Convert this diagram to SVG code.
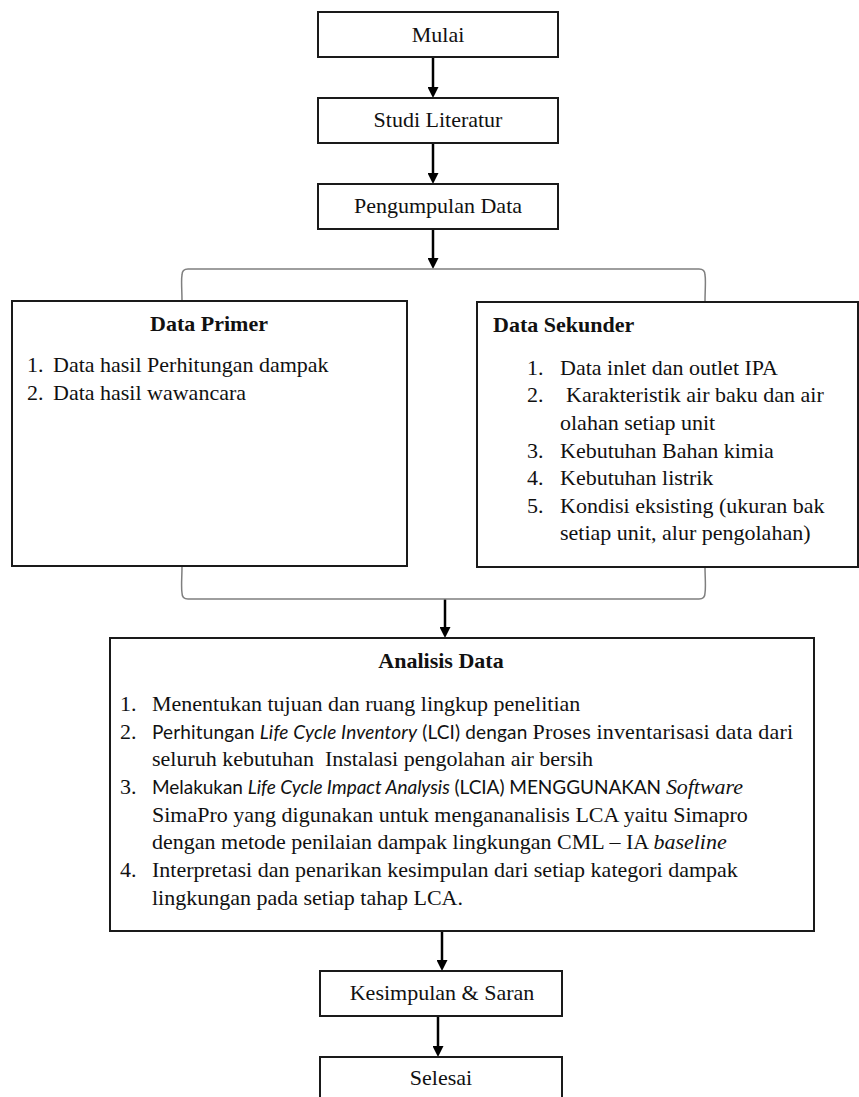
<svg xmlns="http://www.w3.org/2000/svg" width="859" height="1097" viewBox="0 0 859 1097">
  <style>
    .box { fill: #ffffff; stroke: #1a1a1a; stroke-width: 2; }
    .brace { fill: none; stroke: #7f7f7f; stroke-width: 1.5; }
    .flow { stroke: #000000; stroke-width: 2.5; fill: none; }
    text { font-family: "Liberation Serif", Tinos, "Times New Roman", Times, "Nimbus Roman", "DejaVu Serif", serif; font-size: 22px; fill: #111111; }
    .c { text-anchor: middle; }
    .b { font-weight: bold; }
    .s { font-family: Lato, "Open Sans", "Liberation Sans", sans-serif; font-size: 19px; }
    .i { font-style: italic; }
    .pre { white-space: pre; }
  </style>
  <defs>
    <marker id="arrow" viewBox="0 0 10 10" refX="4" refY="5" markerWidth="11" markerHeight="11" markerUnits="userSpaceOnUse" orient="auto">
      <path d="M0,0 L10,5 L0,10 z" fill="#000000"/>
    </marker>
  </defs>

  <!-- connectors -->
  <g id="connectors">
    <line class="flow" x1="433" y1="57" x2="433" y2="91.4" marker-end="url(#arrow)"/>
    <line class="flow" x1="433" y1="143" x2="433" y2="177.4" marker-end="url(#arrow)"/>
    <line class="flow" x1="433" y1="229" x2="433" y2="262.4" marker-end="url(#arrow)"/>
    <line class="flow" x1="445" y1="599" x2="445" y2="631.4" marker-end="url(#arrow)"/>
    <line class="flow" x1="442" y1="931" x2="442" y2="964.4" marker-end="url(#arrow)"/>
    <line class="flow" x1="438" y1="1016" x2="438" y2="1050.4" marker-end="url(#arrow)"/>
    <!-- grouping brackets around the two data boxes -->
    <path class="brace" d="M182,301 C182,290 181,280 182,275 Q182,269 188,269 L699,269 Q705,269 705,275 C706,280 705,290 705,302"/>
    <path class="brace" d="M182,566 C182,577 181,587 182,593 Q182,599 188,599 L699,599 Q705,599 705,593 C706,587 705,577 705,567"/>
  </g>

  <g id="mulai">
    <rect class="box" x="318" y="12" width="240" height="45"/>
    <text class="c" x="438" y="42">Mulai</text>
  </g>

  <g id="studi-literatur">
    <rect class="box" x="318" y="98" width="240" height="45"/>
    <text class="c" x="438" y="127">Studi Literatur</text>
  </g>

  <g id="pengumpulan-data">
    <rect class="box" x="318" y="184" width="240" height="45"/>
    <text class="c" x="438" y="213">Pengumpulan Data</text>
  </g>

  <g id="data-primer">
    <rect class="box" x="12" y="301" width="395" height="265"/>
    <text class="c b" x="209" y="331">Data Primer</text>
    <text x="27" y="372">1.</text>
    <text x="53" y="372">Data hasil Perhitungan dampak</text>
    <text x="27" y="400">2.</text>
    <text x="53" y="400">Data hasil wawancara</text>
  </g>

  <g id="data-sekunder">
    <rect class="box" x="477" y="302" width="381" height="265"/>
    <text class="b" x="493" y="332">Data Sekunder</text>
    <text x="527" y="375">1.</text>
    <text x="560" y="375">Data inlet dan outlet IPA</text>
    <text x="527" y="402">2.</text>
    <text x="566" y="402">Karakteristik air baku dan air</text>
    <text x="560" y="430">olahan setiap unit</text>
    <text x="527" y="458">3.</text>
    <text x="560" y="458">Kebutuhan Bahan kimia</text>
    <text x="527" y="485">4.</text>
    <text x="560" y="485">Kebutuhan listrik</text>
    <text x="527" y="513">5.</text>
    <text x="560" y="513">Kondisi eksisting (ukuran bak</text>
    <text x="560" y="540">setiap unit, alur pengolahan)</text>
  </g>

  <g id="analisis-data">
    <rect class="box" x="110" y="638" width="704" height="293"/>
    <text class="c b" x="441" y="668">Analisis Data</text>
    <text x="120" y="711">1.</text>
    <text x="152" y="711">Menentukan tujuan dan ruang lingkup penelitian</text>
    <text x="120" y="739">2.</text>
    <text x="152" y="739" textLength="641" lengthAdjust="spacing"><tspan class="s">Perhitungan </tspan><tspan class="s i">Life Cycle Inventory</tspan><tspan class="s"> (LCI) dengan </tspan>Proses inventarisasi data dari</text>
    <text class="pre" x="152" y="766">seluruh kebutuhan  Instalasi pengolahan air bersih</text>
    <text x="120" y="794">3.</text>
    <text x="152" y="794" textLength="591" lengthAdjust="spacing"><tspan class="s">Melakukan </tspan><tspan class="s i">Life Cycle Impact Analysis</tspan><tspan class="s"> (LCIA) MENGGUNAKAN </tspan><tspan class="i">Software</tspan></text>
    <text x="152" y="822">SimaPro yang digunakan untuk mengananalisis LCA yaitu Simapro</text>
    <text x="152" y="849">dengan metode penilaian dampak lingkungan CML – IA <tspan class="i">baseline</tspan></text>
    <text x="120" y="877">4.</text>
    <text x="152" y="877">Interpretasi dan penarikan kesimpulan dari setiap kategori dampak</text>
    <text x="152" y="905">lingkungan pada setiap tahap LCA.</text>
  </g>

  <g id="kesimpulan-saran">
    <rect class="box" x="320" y="971" width="242" height="45"/>
    <text class="c" x="442" y="1000">Kesimpulan &amp; Saran</text>
  </g>

  <g id="selesai">
    <rect class="box" x="320" y="1057" width="242" height="60"/>
    <text class="c" x="441" y="1085">Selesai</text>
  </g>
</svg>
